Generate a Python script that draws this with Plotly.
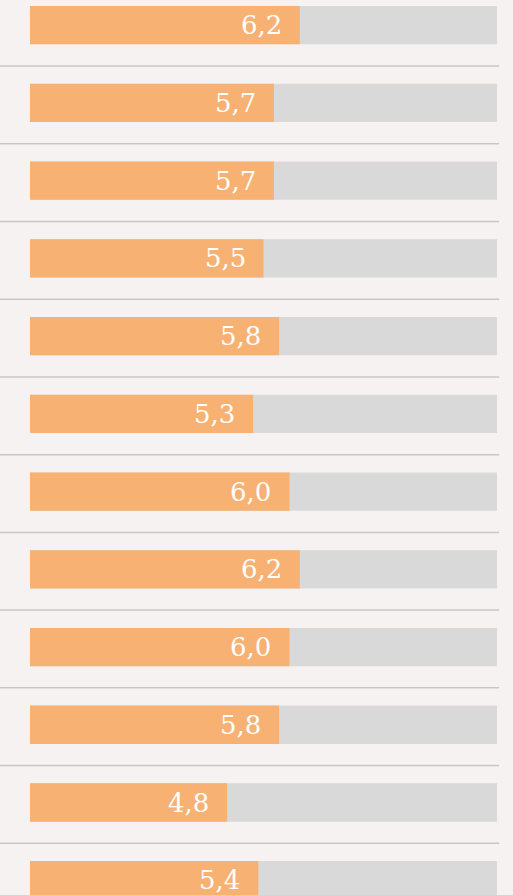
import plotly.graph_objects as go

categories = [f"Item {i}" for i in range(1, 13)]
values = [6.2, 5.7, 5.7, 5.5, 5.8, 5.3, 6.0, 6.2, 6.0, 5.8, 4.8, 5.4]
scale_min = 1
scale_max = 10
labels = [f"{v:.1f}".replace(".", ",") for v in values]

BG = "#F6F2F2"
ORANGE = "#F7B273"
GREY = "#D9D9D9"
SEP = "#C9C6C6"

fig = go.Figure()
fig.add_trace(go.Bar(
    y=categories, x=[scale_max - scale_min] * len(categories), base=scale_min,
    orientation="h", marker=dict(color=GREY, line=dict(width=0)),
    width=0.493, hoverinfo="skip", showlegend=False,
))
fig.add_trace(go.Bar(
    y=categories, x=[v - scale_min for v in values], base=scale_min,
    orientation="h", marker=dict(color=ORANGE, line=dict(width=0)),
    width=0.493, showlegend=False,
))

for c, v, t in zip(categories, values, labels):
    fig.add_annotation(
        x=v, y=c, text=t, showarrow=False, xanchor="right", yanchor="middle",
        xshift=-16, yshift=0,
        font=dict(family="DejaVu Serif", size=26, color="white"),
    )

for i in range(len(categories) - 1):
    fig.add_shape(
        type="line", xref="x", yref="y",
        x0=0.4219, x1=10.04, y0=i + 0.525, y1=i + 0.525,
        line=dict(color=SEP, width=1.5), layer="below",
    )

fig.update_layout(
    width=513, height=895,
    margin=dict(l=0, r=0, t=0, b=0),
    paper_bgcolor=BG, plot_bgcolor=BG,
    barmode="overlay",
    xaxis=dict(range=[0.4219, 10.308], visible=False, fixedrange=True),
    yaxis=dict(range=[11.19, -0.324], visible=False, fixedrange=True,
               categoryorder="array", categoryarray=categories),
)

fig.write_html(
    "out.html",
    config={"displayModeBar": False},
    post_script="document.body.style.margin='0';document.body.style.overflow='hidden';"
                "document.body.style.background='" + BG + "';",
)
